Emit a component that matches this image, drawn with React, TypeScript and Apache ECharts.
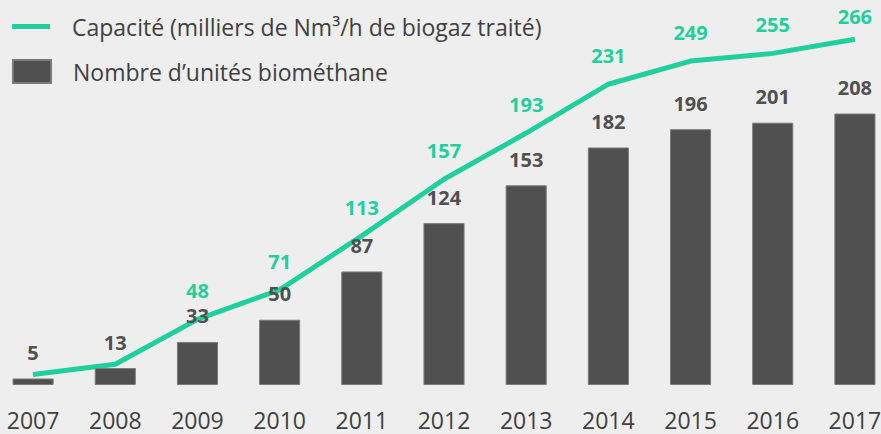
import React, { useEffect, useRef } from "react";
import * as echarts from "echarts";

const years = ["2007", "2008", "2009", "2010", "2011", "2012", "2013", "2014", "2015", "2016", "2017"];
const units = [5, 13, 33, 50, 87, 124, 153, 182, 196, 201, 208];
const capacity = [5, 13, 48, 71, 113, 157, 193, 231, 249, 255, 266];
const capacityName = "Capacité (milliers de Nm³/h de biogaz traité)";
const unitsName = "Nombre d’unités biométhane";

const TEAL = "#1fd09c";
const BAR = "#505050";
const FONT = "Open Sans";
const SHIFT = 8; // the chart div starts 8px left of the window

export default function App() {
  const ref = useRef<HTMLDivElement>(null);
  useEffect(() => {
    if (!ref.current) return;
    const chart = echarts.init(ref.current, null, { renderer: "svg" });
    const last = capacity.length - 1;
    chart.setOption({
      animation: false,
      backgroundColor: "#eeeeee",
      textStyle: { fontFamily: FONT },
      legend: [
        {
          data: [{ name: capacityName, icon: "rect" }],
          left: 12 + SHIFT,
          top: 15,
          padding: 0,
          itemWidth: 38,
          itemHeight: 5,
          textStyle: { fontFamily: FONT, fontSize: 23, color: "#404040", padding: [0, 0, 0, 17] },
        },
        {
          data: [{ name: unitsName, icon: "rect" }],
          left: 12 + SHIFT,
          top: 59,
          padding: 0,
          itemWidth: 38,
          itemHeight: 23,
          textStyle: { fontFamily: FONT, fontSize: 23, color: "#404040", padding: [0, 0, 0, 17] },
        },
      ],
      grid: { left: 0, right: 0, top: 30, bottom: 49, containLabel: false },
      xAxis: {
        type: "category",
        data: years,
        axisLine: { show: false },
        axisTick: { show: false },
        axisLabel: { fontFamily: FONT, fontSize: 23, color: "#404040", margin: 23 },
      },
      yAxis: [
        { type: "value", min: 0, max: 272, show: false, splitLine: { show: false } },
        { type: "value", min: -3.1, max: 273.2, show: false, splitLine: { show: false } },
      ],
      series: [
        {
          name: unitsName,
          type: "bar",
          data: units,
          barWidth: "50%",
          itemStyle: { color: BAR, borderColor: "#7a7a7a", borderWidth: 1 },
          label: {
            show: true,
            position: "top",
            distance: 16,
            fontFamily: FONT,
            fontWeight: "bold",
            fontSize: 20,
            color: BAR,
          },
          z: 4,
        },
        {
          name: capacityName,
          type: "line",
          yAxisIndex: 1,
          data: capacity.map((v, i) => {
            if (i < 2) return { value: v, label: { show: false } };
            if (i === last) return { value: v, label: { distance: 12 } };
            return { value: v };
          }),
          symbol: "circle",
          symbolSize: 1,
          showSymbol: true,
          lineStyle: { color: TEAL, width: 5 },
          itemStyle: { color: TEAL },
          label: {
            show: true,
            position: "top",
            distance: 18,
            fontFamily: FONT,
            fontWeight: "bold",
            fontSize: 20,
            color: TEAL,
          },
          z: 3,
        },
      ],
    });
    return () => chart.dispose();
  }, []);
  return (
    <div
      ref={ref}
      style={{ position: "fixed", left: -SHIFT, top: 0, width: 904, height: 434 }}
    />
  );
}
